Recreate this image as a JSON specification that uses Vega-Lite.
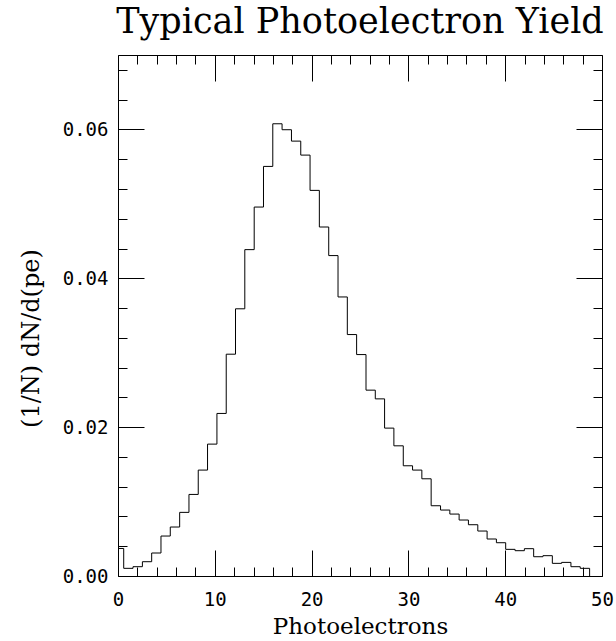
{
  "$schema": "https://vega.github.io/schema/vega-lite/v6.json",
  "width": 484,
  "height": 521,
  "autosize": "none",
  "padding": {"left": 118, "top": 55, "right": 14, "bottom": 65},
  "background": "white",
  "config": {
    "view": {"stroke": "black", "strokeWidth": 1},
    "axis": {"grid": false, "domain": false, "tickColor": "black", "tickWidth": 1, "labelColor": "black", "titleColor": "black", "labelFont": "DejaVu Sans Mono", "labelFontSize": 19, "titleFont": "DejaVu Serif", "titleFontSize": 23, "titleFontWeight": "normal"}
  },
  "title": {"text": "Typical Photoelectron Yield", "anchor": "middle", "baseline": "alphabetic", "offset": -13, "font": "DejaVu Serif", "fontSize": 35, "fontWeight": "normal", "color": "black"},
  "data": {"values": [
    {"pe": -0.37, "density": 0.0037},
    {"pe": 0.59, "density": 0.00103},
    {"pe": 1.55, "density": 0.00125},
    {"pe": 2.52, "density": 0.00192},
    {"pe": 3.48, "density": 0.00309},
    {"pe": 4.44, "density": 0.00537},
    {"pe": 5.40, "density": 0.00658},
    {"pe": 6.37, "density": 0.00855},
    {"pe": 7.33, "density": 0.01096},
    {"pe": 8.29, "density": 0.01423},
    {"pe": 9.25, "density": 0.01772},
    {"pe": 10.22, "density": 0.02184},
    {"pe": 11.18, "density": 0.0298},
    {"pe": 12.14, "density": 0.0359},
    {"pe": 13.10, "density": 0.04385},
    {"pe": 14.07, "density": 0.04957},
    {"pe": 15.03, "density": 0.05503},
    {"pe": 15.99, "density": 0.06076},
    {"pe": 16.95, "density": 0.05996},
    {"pe": 17.92, "density": 0.05843},
    {"pe": 18.88, "density": 0.05655},
    {"pe": 19.84, "density": 0.05181},
    {"pe": 20.80, "density": 0.04689},
    {"pe": 21.77, "density": 0.04305},
    {"pe": 22.73, "density": 0.03749},
    {"pe": 23.69, "density": 0.03244},
    {"pe": 24.65, "density": 0.02975},
    {"pe": 25.62, "density": 0.02497},
    {"pe": 26.58, "density": 0.0238},
    {"pe": 27.54, "density": 0.01987},
    {"pe": 28.50, "density": 0.01749},
    {"pe": 29.47, "density": 0.01481},
    {"pe": 30.43, "density": 0.01423},
    {"pe": 31.39, "density": 0.01306},
    {"pe": 32.35, "density": 0.00944},
    {"pe": 33.32, "density": 0.00886},
    {"pe": 34.28, "density": 0.00832},
    {"pe": 35.24, "density": 0.00752},
    {"pe": 36.20, "density": 0.00689},
    {"pe": 37.17, "density": 0.00604},
    {"pe": 38.13, "density": 0.00497},
    {"pe": 39.09, "density": 0.00447},
    {"pe": 40.05, "density": 0.00358},
    {"pe": 41.02, "density": 0.0034},
    {"pe": 41.98, "density": 0.00367},
    {"pe": 42.94, "density": 0.00259},
    {"pe": 43.90, "density": 0.00273},
    {"pe": 44.87, "density": 0.0017},
    {"pe": 45.83, "density": 0.00183},
    {"pe": 46.79, "density": 0.00125},
    {"pe": 47.75, "density": 0.00103},
    {"pe": 48.72, "density": 0}
  ]},
  "resolve": {"axis": {"x": "independent", "y": "independent"}},
  "layer": [
    {
      "mark": {"type": "line", "interpolate": "step-after", "color": "black", "strokeWidth": 1, "clip": true},
      "encoding": {
        "x": {"field": "pe", "type": "quantitative", "scale": {"domain": [0, 50], "nice": false, "zero": false},
              "axis": {"orient": "bottom", "values": [0, 10, 20, 30, 40, 50], "ticks": false, "labelPadding": 14, "labelFlush": false, "title": "Photoelectrons", "titleBaseline": "alphabetic", "titleY": 57}},
        "y": {"field": "density", "type": "quantitative", "scale": {"domain": [0, 0.07], "nice": false},
              "axis": {"orient": "left", "values": [0, 0.02, 0.04, 0.06], "format": ".2f", "ticks": false, "labelPadding": 10, "labelFlush": false, "title": "(1/N) dN/d(pe)", "titleFontSize": 24, "titleAngle": -90, "titleAlign": "center", "titleBaseline": "alphabetic", "titleX": -80, "titleY": 283}}
      }
    },
    {
      "mark": {"type": "line", "strokeOpacity": 0},
      "encoding": {
        "x": {"field": "pe", "type": "quantitative", "scale": {"domain": [0, 50], "nice": false, "zero": false},
              "axis": {"orient": "bottom", "values": [0, 10, 20, 30, 40, 50], "tickSize": -26, "labels": false, "title": null}},
        "y": {"field": "density", "type": "quantitative", "scale": {"domain": [0, 0.07], "nice": false},
              "axis": {"orient": "left", "values": [0, 0.02, 0.04, 0.06], "tickSize": -26, "labels": false, "title": null}}
      }
    },
    {
      "mark": {"type": "line", "strokeOpacity": 0},
      "encoding": {
        "x": {"field": "pe", "type": "quantitative", "scale": {"domain": [0, 50], "nice": false, "zero": false},
              "axis": {"orient": "bottom", "values": [2, 4, 6, 8, 12, 14, 16, 18, 22, 24, 26, 28, 32, 34, 36, 38, 42, 44, 46, 48], "tickSize": -9, "labels": false, "title": null}},
        "y": {"field": "density", "type": "quantitative", "scale": {"domain": [0, 0.07], "nice": false},
              "axis": {"orient": "left", "values": [0.004, 0.008, 0.012, 0.016, 0.024, 0.028, 0.032, 0.036, 0.044, 0.048, 0.052, 0.056, 0.064, 0.068], "tickSize": -9, "labels": false, "title": null}}
      }
    },
    {
      "mark": {"type": "line", "strokeOpacity": 0},
      "encoding": {
        "x": {"field": "pe", "type": "quantitative", "scale": {"domain": [0, 50], "nice": false, "zero": false},
              "axis": {"orient": "top", "values": [0, 10, 20, 30, 40, 50], "tickSize": -26, "labels": false, "title": null}},
        "y": {"field": "density", "type": "quantitative", "scale": {"domain": [0, 0.07], "nice": false},
              "axis": {"orient": "right", "values": [0, 0.02, 0.04, 0.06], "tickSize": -26, "labels": false, "title": null}}
      }
    },
    {
      "mark": {"type": "line", "strokeOpacity": 0},
      "encoding": {
        "x": {"field": "pe", "type": "quantitative", "scale": {"domain": [0, 50], "nice": false, "zero": false},
              "axis": {"orient": "top", "values": [2, 4, 6, 8, 12, 14, 16, 18, 22, 24, 26, 28, 32, 34, 36, 38, 42, 44, 46, 48], "tickSize": -9, "labels": false, "title": null}},
        "y": {"field": "density", "type": "quantitative", "scale": {"domain": [0, 0.07], "nice": false},
              "axis": {"orient": "right", "values": [0.004, 0.008, 0.012, 0.016, 0.024, 0.028, 0.032, 0.036, 0.044, 0.048, 0.052, 0.056, 0.064, 0.068], "tickSize": -9, "labels": false, "title": null}}
      }
    }
  ]
}
